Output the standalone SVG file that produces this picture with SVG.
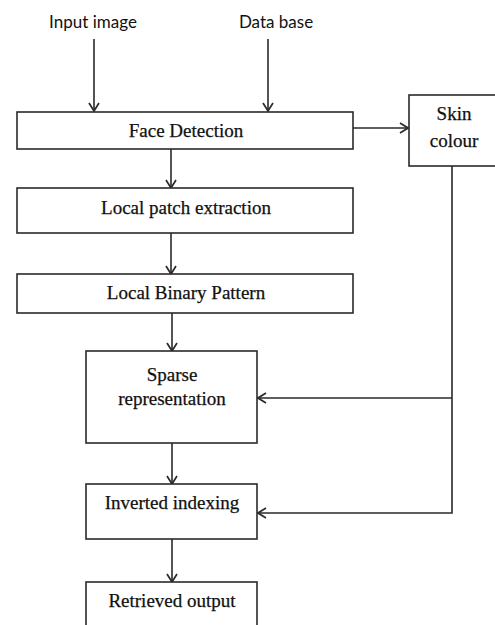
<svg xmlns="http://www.w3.org/2000/svg" width="495" height="625" viewBox="0 0 495 625">
<style>
.box{fill:#fff;stroke:#2a2a2a;stroke-width:1.6}
.t{font-family:"Liberation Serif","Times New Roman",serif;font-size:19px;fill:#111;stroke:#111;stroke-width:0.25;text-anchor:middle}
.s{font-family:Lato,"Liberation Sans",Arial,sans-serif;font-size:17px;fill:#111;text-anchor:middle}
.c{fill:none;stroke:#2a2a2a;stroke-width:1.6}
</style>
<defs>
<marker id="ah" viewBox="0 0 12 12" refX="11" refY="6" markerWidth="12" markerHeight="12" markerUnits="userSpaceOnUse" orient="auto">
<path d="M3,1 L11,6 L3,11" fill="none" stroke="#2a2a2a" stroke-width="1.7"/>
</marker>
</defs>
<rect width="495" height="625" fill="#fff"/>
<text class="s" x="93" y="28">Input image</text>
<text class="s" x="276" y="28">Data base</text>
<g id="connectors">
<line class="c" x1="94" y1="39" x2="94" y2="111" marker-end="url(#ah)"/>
<line class="c" x1="268" y1="39" x2="268" y2="111" marker-end="url(#ah)"/>
<line class="c" x1="353" y1="128" x2="408" y2="128" marker-end="url(#ah)"/>
<line class="c" x1="171" y1="149" x2="171" y2="188" marker-end="url(#ah)"/>
<line class="c" x1="171" y1="233" x2="171" y2="274" marker-end="url(#ah)"/>
<line class="c" x1="172" y1="313" x2="172" y2="351" marker-end="url(#ah)"/>
<line class="c" x1="172" y1="443" x2="172" y2="484" marker-end="url(#ah)"/>
<line class="c" x1="172" y1="539" x2="172" y2="582" marker-end="url(#ah)"/>
<polyline class="c" points="452,166 452,513 258,513" marker-end="url(#ah)"/>
<line class="c" x1="452" y1="398" x2="258" y2="398" marker-end="url(#ah)"/>
</g>
<g id="face-detection">
<rect class="box" x="17" y="112" width="336" height="37"/>
<text class="t" x="186" y="137">Face Detection</text>
</g>
<g id="skin-colour">
<rect class="box" x="409" y="95" width="100" height="71"/>
<text class="t" x="454" y="120">Skin</text>
<text class="t" x="454" y="147">colour</text>
</g>
<g id="local-patch">
<rect class="box" x="17" y="188" width="336" height="45"/>
<text class="t" x="186" y="214">Local patch extraction</text>
</g>
<g id="lbp">
<rect class="box" x="17" y="274" width="336" height="39"/>
<text class="t" x="186" y="299">Local Binary Pattern</text>
</g>
<g id="sparse">
<rect class="box" x="86" y="351" width="171" height="92"/>
<text class="t" x="172" y="381">Sparse</text>
<text class="t" x="172" y="405">representation</text>
</g>
<g id="inverted">
<rect class="box" x="86" y="484" width="171" height="55"/>
<text class="t" x="172" y="509">Inverted indexing</text>
</g>
<g id="retrieved">
<rect class="box" x="86" y="582" width="171" height="60"/>
<text class="t" x="172" y="607">Retrieved output</text>
</g>
</svg>
